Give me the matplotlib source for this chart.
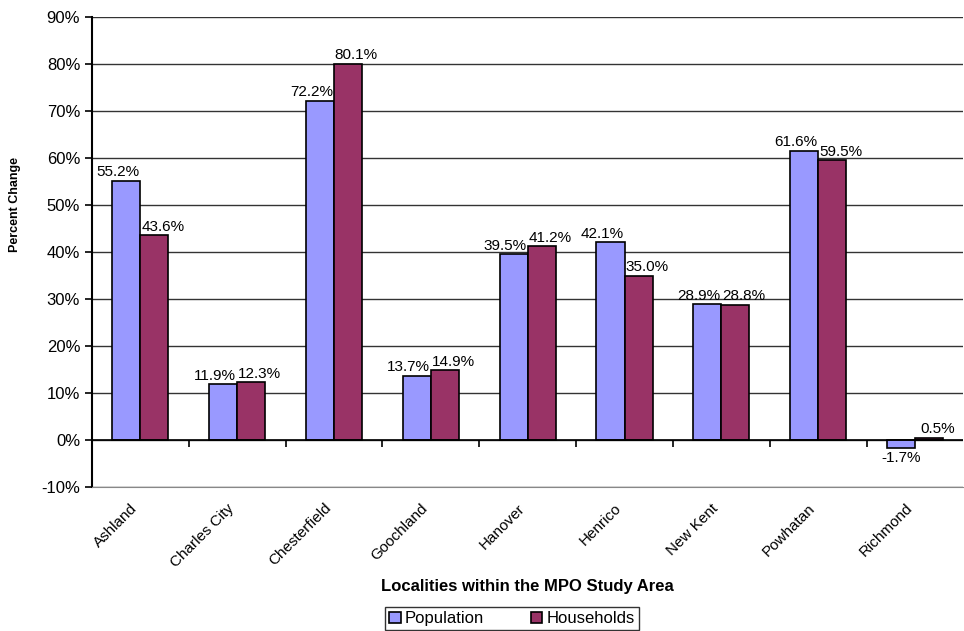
import numpy as np
import matplotlib.pyplot as plt
import matplotlib.transforms as mtransforms

plt.rcParams['font.family'] = ['Liberation Sans', 'DejaVu Sans']

localities = ['Ashland', 'Charles City', 'Chesterfield', 'Goochland', 'Hanover',
              'Henrico', 'New Kent', 'Powhatan', 'Richmond']
population = [55.2, 11.9, 72.2, 13.7, 39.5, 42.1, 28.9, 61.6, -1.7]
households = [43.6, 12.3, 80.1, 14.9, 41.2, 35.0, 28.8, 59.5, 0.5]
yticks = list(range(-10, 91, 10))

fig = plt.figure(figsize=(9.64, 6.31), dpi=100)
ax = fig.add_axes([0.0954, 0.228, 0.904, 0.745])

x = np.arange(len(localities))
w = 0.29
b1 = ax.bar(x - w / 2, population, w, color='#9999FF', edgecolor='black', linewidth=1.2,
            label='Population', zorder=3)
b2 = ax.bar(x + w / 2, households, w, color='#993366', edgecolor='black', linewidth=1.2,
            label='Households', zorder=3)

# value labels, nudged sideways like the original
for xs, vals, dx in [(x - w / 2, population, -6), (x + w / 2, households, 6)]:
    for xi, v in zip(xs, vals):
        if v < 0:
            ax.annotate('%.1f%%' % v, (xi, v), xytext=(0, -2), textcoords='offset points',
                        ha='center', va='top', fontsize=11)
        else:
            ax.annotate('%.1f%%' % v, (xi, v), xytext=(dx, 1), textcoords='offset points',
                        ha='center', va='bottom', fontsize=11)

ax.set_xlim(-0.5, len(localities) - 0.5)
ax.set_ylim(-10, 90)
ax.set_yticks(yticks)
ax.set_yticklabels(['%d%%' % t for t in yticks], fontsize=12)
ax.yaxis.grid(True, color='#333333', linewidth=1, zorder=0)
ax.axhline(0, color='black', linewidth=1.2, zorder=4)

# category separator ticks on the zero line
ax.vlines(x[1:] - 0.5, -1.5, 0, color='black', linewidth=1.2, zorder=4)

ax.set_xticks(x)
ax.set_xticklabels(localities, rotation=45, ha='right', rotation_mode='anchor', fontsize=11)
ax.tick_params(axis='x', length=0, pad=10)
ax.tick_params(axis='y', length=5, width=1.2, direction='out')
shift = mtransforms.ScaledTranslation(-0.1, 0, fig.dpi_scale_trans)
for lbl in ax.get_xticklabels():
    lbl.set_transform(lbl.get_transform() + shift)

for s in ['top', 'right']:
    ax.spines[s].set_visible(False)
ax.spines['bottom'].set_color('#888888')
ax.spines['left'].set_linewidth(1.5)

ax.set_xlabel('Localities within the MPO Study Area', fontsize=12, fontweight='bold')
ax.xaxis.set_label_coords(0.5, -0.195)
fig.text(0.016, 1 - 204 / 631, 'Percent Change', fontsize=9, fontweight='bold',
         rotation=90, ha='center', va='center')

leg = fig.legend(handles=[b1, b2], loc='upper center', bbox_to_anchor=(0.531, 1 - 607 / 631),
                 ncol=2, fontsize=12, frameon=True, fancybox=False, edgecolor='black',
                 handlelength=0.7, handleheight=0.7, handletextpad=0.25, columnspacing=2.8,
                 borderpad=0.25, borderaxespad=0)
leg.get_frame().set_linewidth(1)

fig.savefig('out.png', dpi=100)
